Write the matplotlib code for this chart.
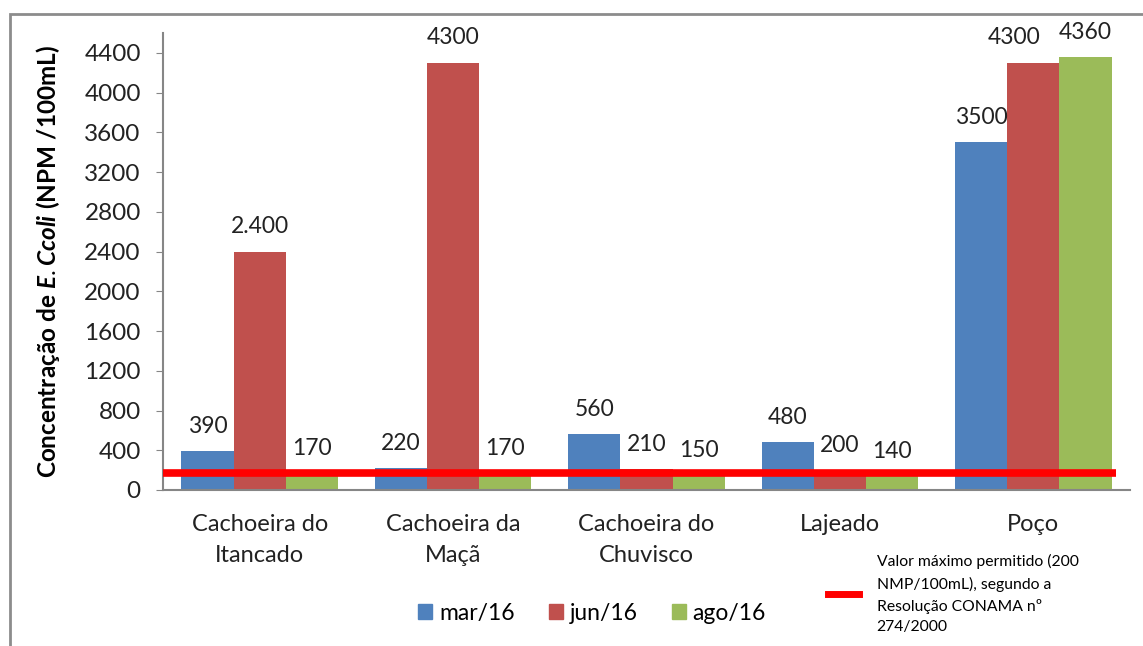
import numpy as np
import matplotlib
matplotlib.use("Agg")
import matplotlib.pyplot as plt
import matplotlib.patches as patches
from matplotlib.lines import Line2D

plt.rcParams['font.family'] = ['Lato', 'DejaVu Sans']
plt.rcParams['mathtext.fontset'] = 'custom'
plt.rcParams['mathtext.rm'] = 'Lato'
plt.rcParams['mathtext.bf'] = 'Lato:bold'
plt.rcParams['mathtext.it'] = 'Lato:italic:bold'

# --- Data ---
sites = ['Cachoeira do\nItancado', 'Cachoeira da\nMaçã', 'Cachoeira do\nChuvisco', 'Lajeado', 'Poço']
months = ['mar/16', 'jun/16', 'ago/16']
mar16 = [390, 220, 560, 480, 3500]
jun16 = [2400, 4300, 210, 200, 4300]
ago16 = [170, 170, 150, 140, 4360]
mar16_labels = ['390', '220', '560', '480', '3500']
jun16_labels = ['2.400', '4300', '210', '200', '4300']
ago16_labels = ['170', '170', '150', '140', '4360']
limit_value = 175  # drawn position of the 200 NMP/100mL line
limit_label = ('Valor máximo permitido (200\nNMP/100mL), segundo a\n'
               'Resolução CONAMA nº\n274/2000')
yticks = [0, 400, 800, 1200, 1600, 2000, 2400, 2800, 3200, 3600, 4000, 4400]

colors = ['#4F81BD', '#C0504D', '#9BBB59']
gray = '#868686'
txt = '#222222'
fs = 16.5

fig = plt.figure(figsize=(11.43, 6.46), dpi=100)
ax = fig.add_axes([0.1426, 0.2415, 0.8460, 0.7074])

x = np.arange(len(sites))
w = 0.27
series = [mar16, jun16, ago16]
labels = [mar16_labels, jun16_labels, ago16_labels]
for i, (vals, labs) in enumerate(zip(series, labels)):
    pos = x + (i - 1) * w
    ax.bar(pos, vals, width=w, color=colors[i], label=months[i])
    for j, (px, v, t) in enumerate(zip(pos, vals, labs)):
        # Poço jun label nudged left so it doesn't touch the ago label
        dx = -0.1 if (i == 1 and j == len(sites) - 1) else 0
        ax.text(px + dx, v + 250, t, ha='center', va='center', fontsize=fs, color=txt)

# limit line
ax.plot([-0.5, 4.43], [limit_value, limit_value], color='#FF0000', lw=5.5,
        solid_capstyle='butt', zorder=5)

ax.set_xlim(-0.5, 4.5)
ax.set_ylim(0, 4600)
ax.set_yticks(yticks)
ax.set_xticks(x)
ax.set_xticklabels(sites, fontsize=17, color=txt, linespacing=1.6)
ax.tick_params(axis='x', length=0, pad=17)
ax.tick_params(axis='y', length=5, color=gray, labelsize=17.5, labelcolor=txt, pad=11)
for s in ['top', 'right']:
    ax.spines[s].set_visible(False)
for s in ['left', 'bottom']:
    ax.spines[s].set_color(gray)
    ax.spines[s].set_linewidth(1.5)

ax.set_ylabel(r'$\mathbf{Concentração\ de\ }$$\mathit{E.Ccoli}$$\mathbf{\ (NPM\ /100mL)}$',
              fontsize=17.5, labelpad=16)

# legends
handles = [patches.Patch(color=c) for c in colors]
fig.legend(handles, months, loc='center', bbox_to_anchor=(0.518, 0.051), ncol=3,
           frameon=False, fontsize=fs, handlelength=0.6, handleheight=0.6,
           handletextpad=0.3, columnspacing=1.5)
fig.legend([Line2D([0], [0], color='#FF0000', lw=5)], [limit_label],
           loc='center left', bbox_to_anchor=(0.712, 0.080), frameon=False,
           fontsize=11.3, handlelength=2.0, handletextpad=1.1, labelspacing=0)
for t in fig.legends[-1].get_texts():
    t.set_linespacing(1.6)

# outer frame
fig.patches.append(patches.Rectangle((10 / 1143, -0.05), 1.2, 0.05 + (646 - 14) / 646,
                                     transform=fig.transFigure, fill=False,
                                     edgecolor='#8c8c8c', lw=2))

fig.savefig('out.png', dpi=100)
